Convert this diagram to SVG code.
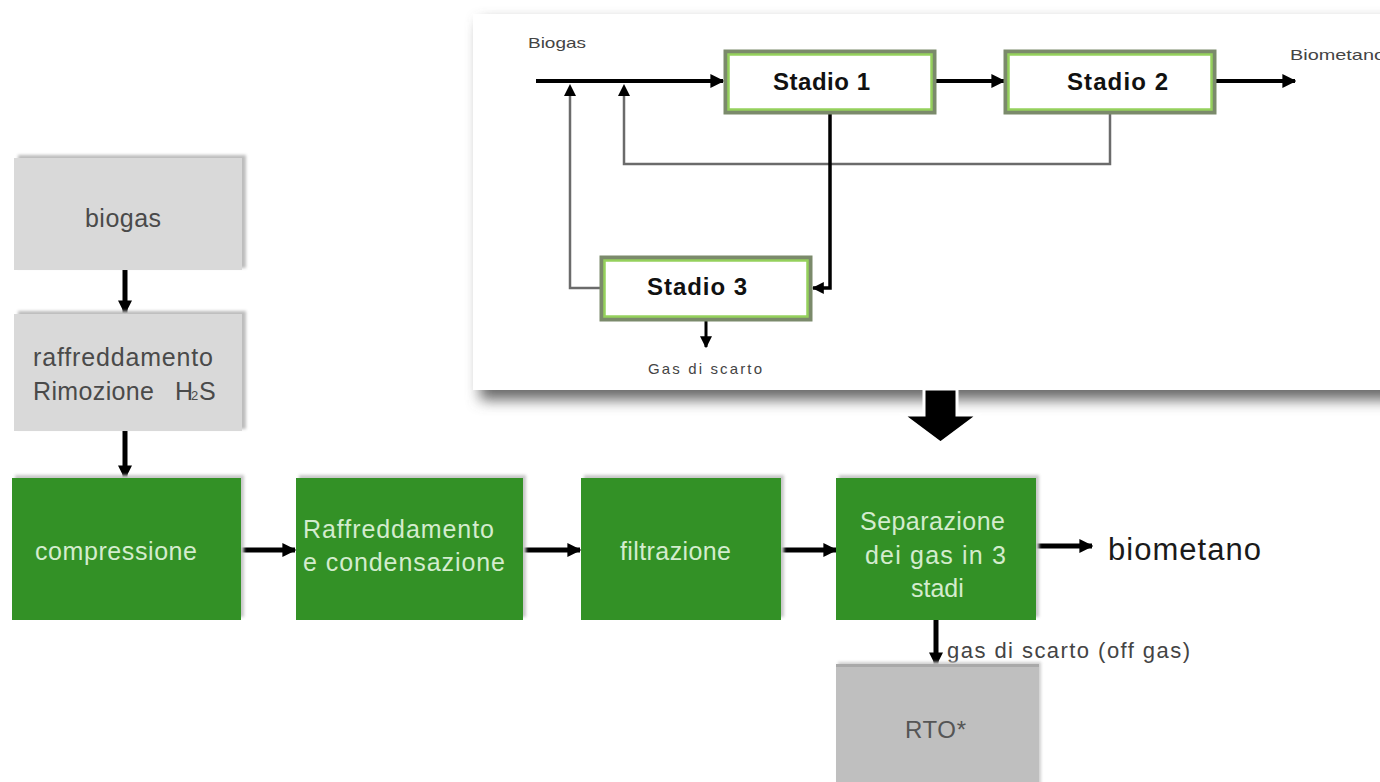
<svg xmlns="http://www.w3.org/2000/svg" width="1380" height="782" viewBox="0 0 1380 782">
<style>
text{font-family:"Liberation Sans",Arial,sans-serif}
.gt{font-size:25px;fill:#4a4a4a}
.wt{font-size:25px;fill:#d3ecce}
.st{font-size:24px;font-weight:bold;fill:#111}
.sm{font-size:15px;fill:#444}
.fb{fill:none;stroke:#6b6b6b;stroke-width:2.5}
.bk{fill:none;stroke:#000;stroke-width:4}
.bk5{fill:none;stroke:#000;stroke-width:5}
.gray{fill:#d9d9d9}
.grn{fill:#339126}
</style>
<defs>
<marker id="ah" viewBox="0 0 10 10" refX="9" refY="5" markerWidth="14" markerHeight="14" markerUnits="userSpaceOnUse" orient="auto"><path d="M0,0L10,5L0,10z" fill="#000"/></marker>
<marker id="as" viewBox="0 0 10 10" refX="9" refY="5" markerWidth="12" markerHeight="12" markerUnits="userSpaceOnUse" orient="auto"><path d="M0,0L10,5L0,10z" fill="#000"/></marker>
<filter id="pblur" x="-10%" y="-10%" width="120%" height="130%"><feGaussianBlur stdDeviation="7"/></filter>
<filter id="sblur"><feGaussianBlur stdDeviation="1.5"/></filter>
</defs>

<g id="panel">
<rect x="480" y="22" width="930" height="378" fill="#6a6a6a" filter="url(#pblur)"/>
<rect x="473" y="14" width="920" height="376" fill="#fff"/>
</g>

<g id="connectors">
<path class="fb" d="M601,288 H570 V95"/>
<path class="fb" d="M1110,113 V164 H624 V95"/>
<path d="M570,96 L564,96 L570,84 L576,96z" fill="#000"/>
<path d="M624,96 L618,96 L624,84 L630,96z" fill="#000"/>
<path class="bk" d="M536,81 H723" marker-end="url(#ah)"/>
<path class="bk" d="M935,81 H1004" marker-end="url(#ah)"/>
<path class="bk" d="M1215,81 H1295" marker-end="url(#ah)"/>
<path fill="none" stroke="#000" stroke-width="3.5" d="M830,113 V288 H813" marker-end="url(#as)"/>
<path fill="none" stroke="#000" stroke-width="3" d="M706,320 V347" marker-end="url(#as)"/>
<path class="bk5" d="M125,270 V313" marker-end="url(#ah)"/>
<path class="bk5" d="M125,431 V478" marker-end="url(#ah)"/>
<path class="bk5" d="M241,550 H295" marker-end="url(#ah)"/>
<path class="bk5" d="M523,550 H580" marker-end="url(#ah)"/>
<path class="bk5" d="M781,550 H836" marker-end="url(#ah)"/>
<path class="bk5" d="M1036,546 H1092" marker-end="url(#ah)"/>
<path class="bk5" d="M936,620 V665" marker-end="url(#ah)"/>
<path d="M924,389 H957 V415 H978 L940.5,443 L903,415 H924z" fill="#000" stroke="#fff" stroke-width="3"/>
</g>

<g id="biogas-in"><text class="sm" x="528" y="48" textLength="58" lengthAdjust="spacingAndGlyphs">Biogas</text></g>
<g id="stadio1">
<rect x="726" y="52" width="208" height="60" fill="#fff" stroke="#7b8a6b" stroke-width="5"/>
<rect x="728.5" y="54.5" width="203" height="55" fill="none" stroke="#95d15c" stroke-width="2.5"/>
<text class="st" x="773" y="90" textLength="97">Stadio 1</text>
</g>
<g id="stadio2">
<rect x="1006" y="52" width="208" height="60" fill="#fff" stroke="#7b8a6b" stroke-width="5"/>
<rect x="1008.5" y="54.5" width="203" height="55" fill="none" stroke="#95d15c" stroke-width="2.5"/>
<text class="st" x="1067" y="90" textLength="101">Stadio 2</text>
</g>
<g id="biometano-out"><text class="sm" x="1290" y="60" textLength="95" lengthAdjust="spacingAndGlyphs">Biometano</text></g>
<g id="stadio3">
<rect x="602" y="258" width="208" height="61" fill="#fff" stroke="#7b8a6b" stroke-width="5"/>
<rect x="604.5" y="260.5" width="203" height="56" fill="none" stroke="#95d15c" stroke-width="2.5"/>
<text class="st" x="647" y="295" textLength="100">Stadio 3</text>
</g>
<g id="gas-scarto-inset"><text class="sm" x="648" y="374" font-size="16" textLength="114">Gas di scarto</text></g>

<g id="biogas">
<rect x="18" y="155" width="228" height="113" fill="#bdbdbd" filter="url(#sblur)"/>
<rect class="gray" x="14" y="158" width="228" height="112"/>
<text class="gt" x="85" y="227" textLength="76">biogas</text>
</g>
<g id="raffreddamento">
<rect x="18" y="311" width="228" height="118" fill="#bdbdbd" filter="url(#sblur)"/>
<rect class="gray" x="14" y="314" width="228" height="117"/>
<text class="gt" x="33" y="366" textLength="180">raffreddamento</text>
<text class="gt" y="400"><tspan x="33" textLength="121">Rimozione</tspan><tspan x="175">H</tspan><tspan x="191" font-size="13">2</tspan><tspan x="199">S</tspan></text>
</g>
<g id="compressione">
<rect x="15" y="475" width="229" height="142" fill="#c8c8c8" filter="url(#sblur)"/>
<rect class="grn" x="12" y="478" width="229" height="142"/>
<text class="wt" x="35" y="560" textLength="162">compressione</text>
</g>
<g id="raffreddamento-condensazione">
<rect x="299" y="475" width="227" height="142" fill="#c8c8c8" filter="url(#sblur)"/>
<rect class="grn" x="296" y="478" width="227" height="142"/>
<text class="wt" x="303" y="538" textLength="191">Raffreddamento</text>
<text class="wt" x="303" y="571" textLength="202">e condensazione</text>
</g>
<g id="filtrazione">
<rect x="584" y="475" width="200" height="142" fill="#c8c8c8" filter="url(#sblur)"/>
<rect class="grn" x="581" y="478" width="200" height="142"/>
<text class="wt" x="620" y="560" textLength="111">filtrazione</text>
</g>
<g id="separazione">
<rect x="839" y="475" width="200" height="142" fill="#c8c8c8" filter="url(#sblur)"/>
<rect class="grn" x="836" y="478" width="200" height="142"/>
<text class="wt" x="860" y="530" textLength="145">Separazione</text>
<text class="wt" x="865" y="564" textLength="141">dei gas in 3</text>
<text class="wt" x="911" y="597">stadi</text>
</g>
<g id="biometano"><text x="1108" y="560" font-size="31" fill="#1a1a1a" textLength="153">biometano</text></g>
<g id="offgas-label"><text x="947" y="658" font-size="22" fill="#444" textLength="243">gas di scarto (off gas)</text></g>
<g id="rto">
<rect x="838" y="662" width="203" height="125" fill="#d0d0d0" filter="url(#sblur)"/>
<rect x="836" y="664" width="203" height="120" fill="#bfbfbf"/>
<rect x="836" y="664" width="203" height="3" fill="#a9a9a9"/>
<text x="905" y="738" font-size="24" fill="#555" textLength="61">RTO*</text>
</g>
</svg>
